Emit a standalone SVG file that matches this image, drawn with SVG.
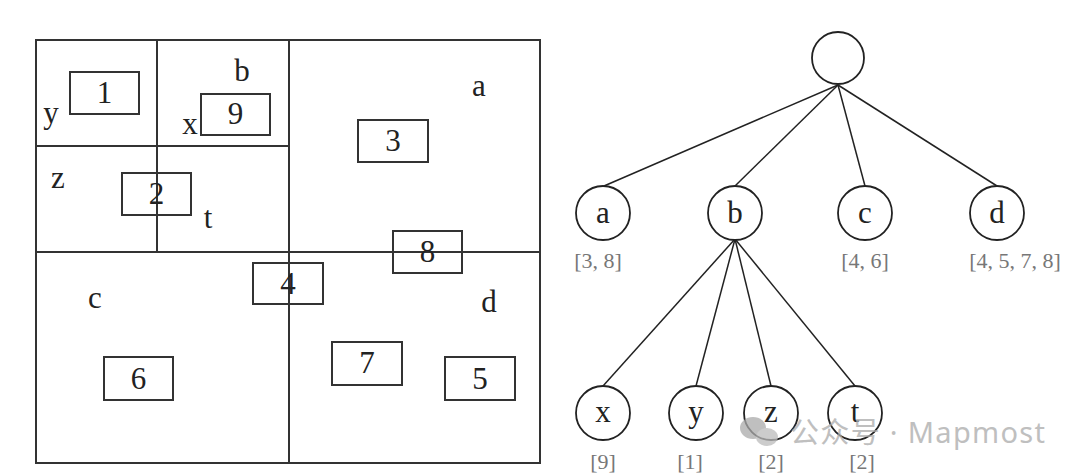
<svg xmlns="http://www.w3.org/2000/svg" width="1080" height="476" viewBox="0 0 1080 476">
<style>
.g{fill:none;stroke:#333;stroke-width:2}
.bx{fill:none;stroke:#333;stroke-width:2}
.t{font-family:"Liberation Serif","DejaVu Serif",serif;font-size:31px;fill:#222;text-anchor:middle}
.n{fill:#fff;stroke:#222;stroke-width:1.8}
.e{stroke:#222;stroke-width:1.5;fill:none}
.lb{font-family:"Liberation Serif","DejaVu Serif",serif;font-size:22px;fill:#777;text-anchor:middle}
.wm{font-family:"Noto Sans","Noto Sans CJK SC",sans-serif;font-size:29px;fill:#aaa}
</style>
<rect width="1080" height="476" fill="#fff"/>
<g id="grid">
<rect class="g" x="36" y="40" width="504" height="423"/>
<line class="g" x1="157" y1="40" x2="157" y2="252"/>
<line class="g" x1="36" y1="146" x2="289" y2="146"/>
<line class="g" x1="289" y1="40" x2="289" y2="463"/>
<line class="g" x1="36" y1="252" x2="540" y2="252"/>
</g>
<g id="regions">
<text class="t" x="242" y="81">b</text>
<text class="t" x="51" y="123">y</text>
<text class="t" x="190" y="134">x</text>
<text class="t" x="58" y="188">z</text>
<text class="t" x="208" y="228">t</text>
<text class="t" x="479" y="96">a</text>
<text class="t" x="95" y="308">c</text>
<text class="t" x="489" y="312">d</text>
</g>
<g id="box1"><rect class="bx" x="70" y="72" width="69" height="42"/><text class="t" x="104.5" y="103">1</text></g>
<g id="box9"><rect class="bx" x="201" y="94" width="69" height="41"/><text class="t" x="235.5" y="124">9</text></g>
<g id="box2"><rect class="bx" x="122" y="173" width="69" height="42"/><text class="t" x="156.5" y="204">2</text></g>
<g id="box3"><rect class="bx" x="358" y="120" width="70" height="42"/><text class="t" x="393" y="151">3</text></g>
<g id="box8"><rect class="bx" x="393" y="231" width="69" height="42"/><text class="t" x="427.5" y="262">8</text></g>
<g id="box4"><rect class="bx" x="253" y="263" width="70" height="41"/><text class="t" x="288" y="294">4</text></g>
<g id="box6"><rect class="bx" x="104" y="357" width="69" height="43"/><text class="t" x="138.5" y="389">6</text></g>
<g id="box7"><rect class="bx" x="332" y="342" width="70" height="43"/><text class="t" x="367" y="373">7</text></g>
<g id="box5"><rect class="bx" x="445" y="357" width="70" height="43"/><text class="t" x="480" y="389">5</text></g>
<g id="connectors">
<line class="e" x1="838" y1="85" x2="604" y2="186"/>
<line class="e" x1="838" y1="85" x2="735" y2="186"/>
<line class="e" x1="838" y1="85" x2="865" y2="186"/>
<line class="e" x1="838" y1="85" x2="997" y2="186"/>
<line class="e" x1="735" y1="239" x2="603" y2="386"/>
<line class="e" x1="735" y1="239" x2="696" y2="386"/>
<line class="e" x1="735" y1="239" x2="771" y2="386"/>
<line class="e" x1="735" y1="239" x2="855" y2="386"/>
</g>
<g id="root"><circle class="n" cx="838" cy="58" r="26"/></g>
<g id="node-a"><circle class="n" cx="603" cy="213" r="27"/><text class="t" x="603" y="223">a</text><text class="lb" x="598" y="268">[3, 8]</text></g>
<g id="node-b"><circle class="n" cx="735" cy="213" r="27"/><text class="t" x="735" y="223">b</text></g>
<g id="node-c"><circle class="n" cx="865" cy="213" r="27"/><text class="t" x="865" y="223">c</text><text class="lb" x="865" y="268">[4, 6]</text></g>
<g id="node-d"><circle class="n" cx="997" cy="213" r="27"/><text class="t" x="997" y="223">d</text><text class="lb" x="1015" y="268">[4, 5, 7, 8]</text></g>
<g id="node-x"><circle class="n" cx="603" cy="413" r="27"/><text class="t" x="603" y="422">x</text><text class="lb" x="603" y="469">[9]</text></g>
<g id="node-y"><circle class="n" cx="696" cy="413" r="27"/><text class="t" x="696" y="422">y</text><text class="lb" x="690" y="469">[1]</text></g>
<g id="node-z"><circle class="n" cx="771" cy="413" r="27"/><text class="t" x="771" y="422">z</text><text class="lb" x="771" y="469">[2]</text></g>
<g id="node-t"><circle class="n" cx="855" cy="413" r="27"/><text class="t" x="855" y="422">t</text><text class="lb" x="862" y="469">[2]</text></g>
<g id="watermark" opacity="0.75">
<ellipse cx="753" cy="428" rx="13" ry="11" fill="#aaa"/>
<ellipse cx="767" cy="437" rx="11" ry="9" fill="#bbb"/>
<text class="wm" x="790" y="443" textLength="255">公众号 · Mapmost</text>
</g>
</svg>
